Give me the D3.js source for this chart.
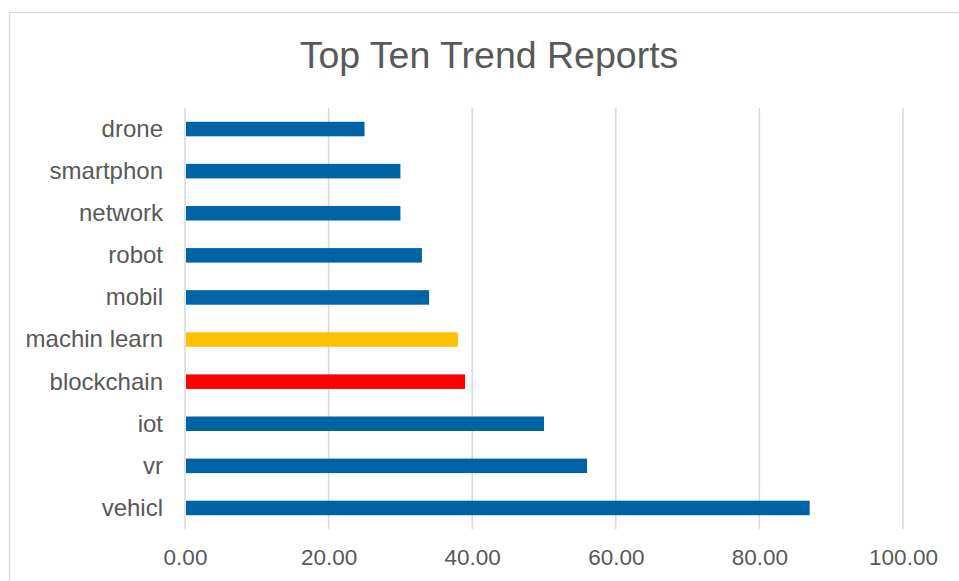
<!DOCTYPE html>
<html><head><meta charset="utf-8">
<script src="https://cdn.jsdelivr.net/npm/d3@7"></script>
<style>
html,body{margin:0;padding:0;background:#fff;}
svg{display:block;font-family:"Liberation Sans",Arial,sans-serif;}
</style></head>
<body><svg id="c" width="959" height="581"></svg>
<script>
const categories = ["drone","smartphon","network","robot","mobil","machin learn","blockchain","iot","vr","vehicl"];
const values = [25, 30, 30, 33, 34, 38, 39, 50, 56, 87];
const barColors = ["#0063A6","#0063A6","#0063A6","#0063A6","#0063A6","#FFC000","#FF0000","#0063A6","#0063A6","#0063A6"];
const xTicks = [0, 20, 40, 60, 80, 100];
const title = "Top Ten Trend Reports";

const svg = d3.select("#c");
svg.append("rect").attr("x",9.5).attr("y",12.5).attr("width",1000).attr("height",700)
  .attr("fill","#fff").attr("stroke","#d9d9d9").attr("stroke-width",1.3);

const x = d3.scaleLinear().domain([0,100]).range([185,903]);
const y = d3.scaleBand().domain(categories).range([108,529]).paddingInner(0.655).paddingOuter(0.3275);

const grid = svg.append("g");
grid.selectAll("line").data(xTicks).join("line")
  .attr("x1",d=>x(d)).attr("x2",d=>x(d)).attr("y1",108).attr("y2",529)
  .attr("stroke","#d9d9d9").attr("stroke-width",1.5);

svg.append("g").selectAll("rect").data(categories).join("rect")
  .attr("x",x(0)+1).attr("y",d=>y(d))
  .attr("width",(d,i)=>x(values[i])-x(0)-1).attr("height",y.bandwidth())
  .attr("fill",(d,i)=>barColors[i]);

const yAxis = svg.append("g").attr("transform","translate(185,0)")
  .call(d3.axisLeft(y).tickSize(0).tickPadding(22));
yAxis.select(".domain").remove();
yAxis.selectAll("text").attr("fill","#595959").style("font-size","24px").attr("dy","0.33em");

const xAxis = svg.append("g").attr("transform","translate(0,529)")
  .call(d3.axisBottom(x).tickValues(xTicks).tickFormat(d3.format(".2f")).tickSize(0).tickPadding(20));
xAxis.select(".domain").remove();
xAxis.selectAll("text").attr("fill","#595959").style("font-size","22.5px").attr("dy","0.71em");

svg.append("text").attr("x",489).attr("y",67.5).attr("text-anchor","middle")
  .attr("fill","#595959").style("font-size","37.5px").text(title);
</script></body></html>
